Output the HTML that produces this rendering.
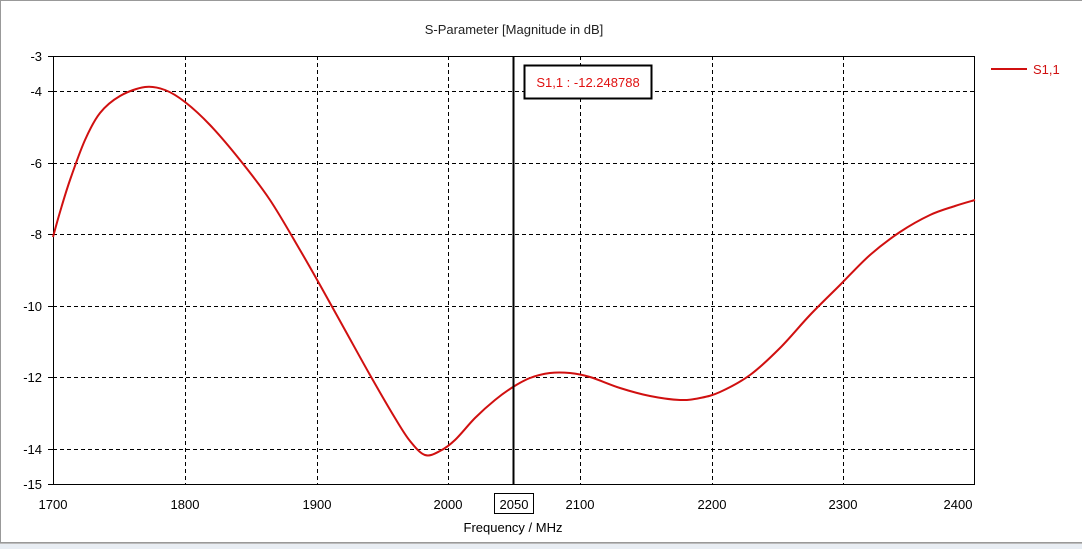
<!DOCTYPE html>
<html><head><meta charset="utf-8"><style>
body{margin:0;width:1082px;height:549px;background:#fff;overflow:hidden;font-family:"Liberation Sans",sans-serif;}
</style></head><body>
<svg width="1082" height="549" xmlns="http://www.w3.org/2000/svg" font-family="Liberation Sans, sans-serif">
<rect x="0.5" y="0.5" width="1090" height="542" fill="#fff" stroke="#999"/>
<rect x="0" y="543" width="1082" height="6" fill="#e8edf3"/>
<line x1="0" y1="543.5" x2="1082" y2="543.5" stroke="#bbb"/>
<text x="514" y="34" font-size="13" text-anchor="middle" fill="#222">S-Parameter [Magnitude in dB]</text>
<g stroke="#000" stroke-dasharray="4,3" stroke-width="1">
<line x1="185.5" y1="56" x2="185.5" y2="485"/><line x1="317.5" y1="56" x2="317.5" y2="485"/>
<line x1="448.5" y1="56" x2="448.5" y2="485"/><line x1="580.5" y1="56" x2="580.5" y2="485"/>
<line x1="712.5" y1="56" x2="712.5" y2="485"/><line x1="843.5" y1="56" x2="843.5" y2="485"/>
<line x1="53" y1="91.5" x2="974" y2="91.5"/><line x1="53" y1="163.5" x2="974" y2="163.5"/>
<line x1="53" y1="234.5" x2="974" y2="234.5"/><line x1="53" y1="306.5" x2="974" y2="306.5"/>
<line x1="53" y1="377.5" x2="974" y2="377.5"/><line x1="53" y1="449.5" x2="974" y2="449.5"/>
</g>
<rect x="53.5" y="56.5" width="921" height="428" fill="none" stroke="#000"/>
<g stroke="#000"><line x1="48" y1="56.5" x2="53" y2="56.5"/><line x1="48" y1="91.5" x2="53" y2="91.5"/><line x1="48" y1="163.5" x2="53" y2="163.5"/><line x1="48" y1="234.5" x2="53" y2="234.5"/><line x1="48" y1="306.5" x2="53" y2="306.5"/><line x1="48" y1="377.5" x2="53" y2="377.5"/><line x1="48" y1="449.5" x2="53" y2="449.5"/><line x1="48" y1="484.5" x2="53" y2="484.5"/></g>
<g font-size="13" fill="#000" text-anchor="end">
<text x="42" y="61">-3</text><text x="42" y="96">-4</text><text x="42" y="168">-6</text><text x="42" y="239">-8</text>
<text x="42" y="311">-10</text><text x="42" y="382">-12</text><text x="42" y="454">-14</text><text x="42" y="489">-15</text>
</g>
<g font-size="13" fill="#000" text-anchor="middle">
<text x="53" y="509">1700</text><text x="185" y="509">1800</text><text x="317" y="509">1900</text><text x="448" y="509">2000</text>
<text x="580" y="509">2100</text><text x="712" y="509">2200</text><text x="843" y="509">2300</text><text x="958" y="509">2400</text>
<text x="514" y="509">2050</text>
<text x="513" y="532">Frequency / MHz</text>
</g>
<rect x="494.5" y="493.5" width="39" height="20" fill="none" stroke="#000"/>
<path id="curve" fill="none" stroke="#d01010" stroke-width="2" d=""/>
<line x1="513.5" y1="56" x2="513.5" y2="485" stroke="#000" stroke-width="2"/>
<rect x="524.5" y="65.5" width="127" height="33" fill="#fff" stroke="#000" stroke-width="2"/>
<text x="588" y="87" font-size="13" fill="#e01010" text-anchor="middle">S1,1 : -12.248788</text>
<line x1="991" y1="69" x2="1027" y2="69" stroke="#d01010" stroke-width="2"/>
<text x="1033" y="74" font-size="13" fill="#d01010">S1,1</text>
</svg>
<script>
var p=[[53,237],[60,212],[70,180],[85,140],[100,113],[120,96],[145,87],[165,90],[185,102],[210,125],[240,160],[270,200],[300,250],[320,285],[345,330],[370,375],[395,418],[410,441],[425,455],[440,451],[455,440],[475,418],[495,400],[513,387],[530,378],[550,373],[570,373],[590,377],[620,388],[650,396],[680,400],[700,398],[720,392],[750,375],[780,348],[810,315],[840,285],[870,255],[900,232],[930,215],[955,206],[975,200]];
var d="M"+p[0][0]+","+p[0][1];
for(var i=0;i<p.length-1;i++){var a=p[Math.max(i-1,0)],b=p[i],c=p[i+1],e=p[Math.min(i+2,p.length-1)];
d+=" C"+(b[0]+(c[0]-a[0])/6)+","+(b[1]+(c[1]-a[1])/6)+" "+(c[0]-(e[0]-b[0])/6)+","+(c[1]-(e[1]-b[1])/6)+" "+c[0]+","+c[1];}
document.getElementById("curve").setAttribute("d",d);
</script>
</body></html>
